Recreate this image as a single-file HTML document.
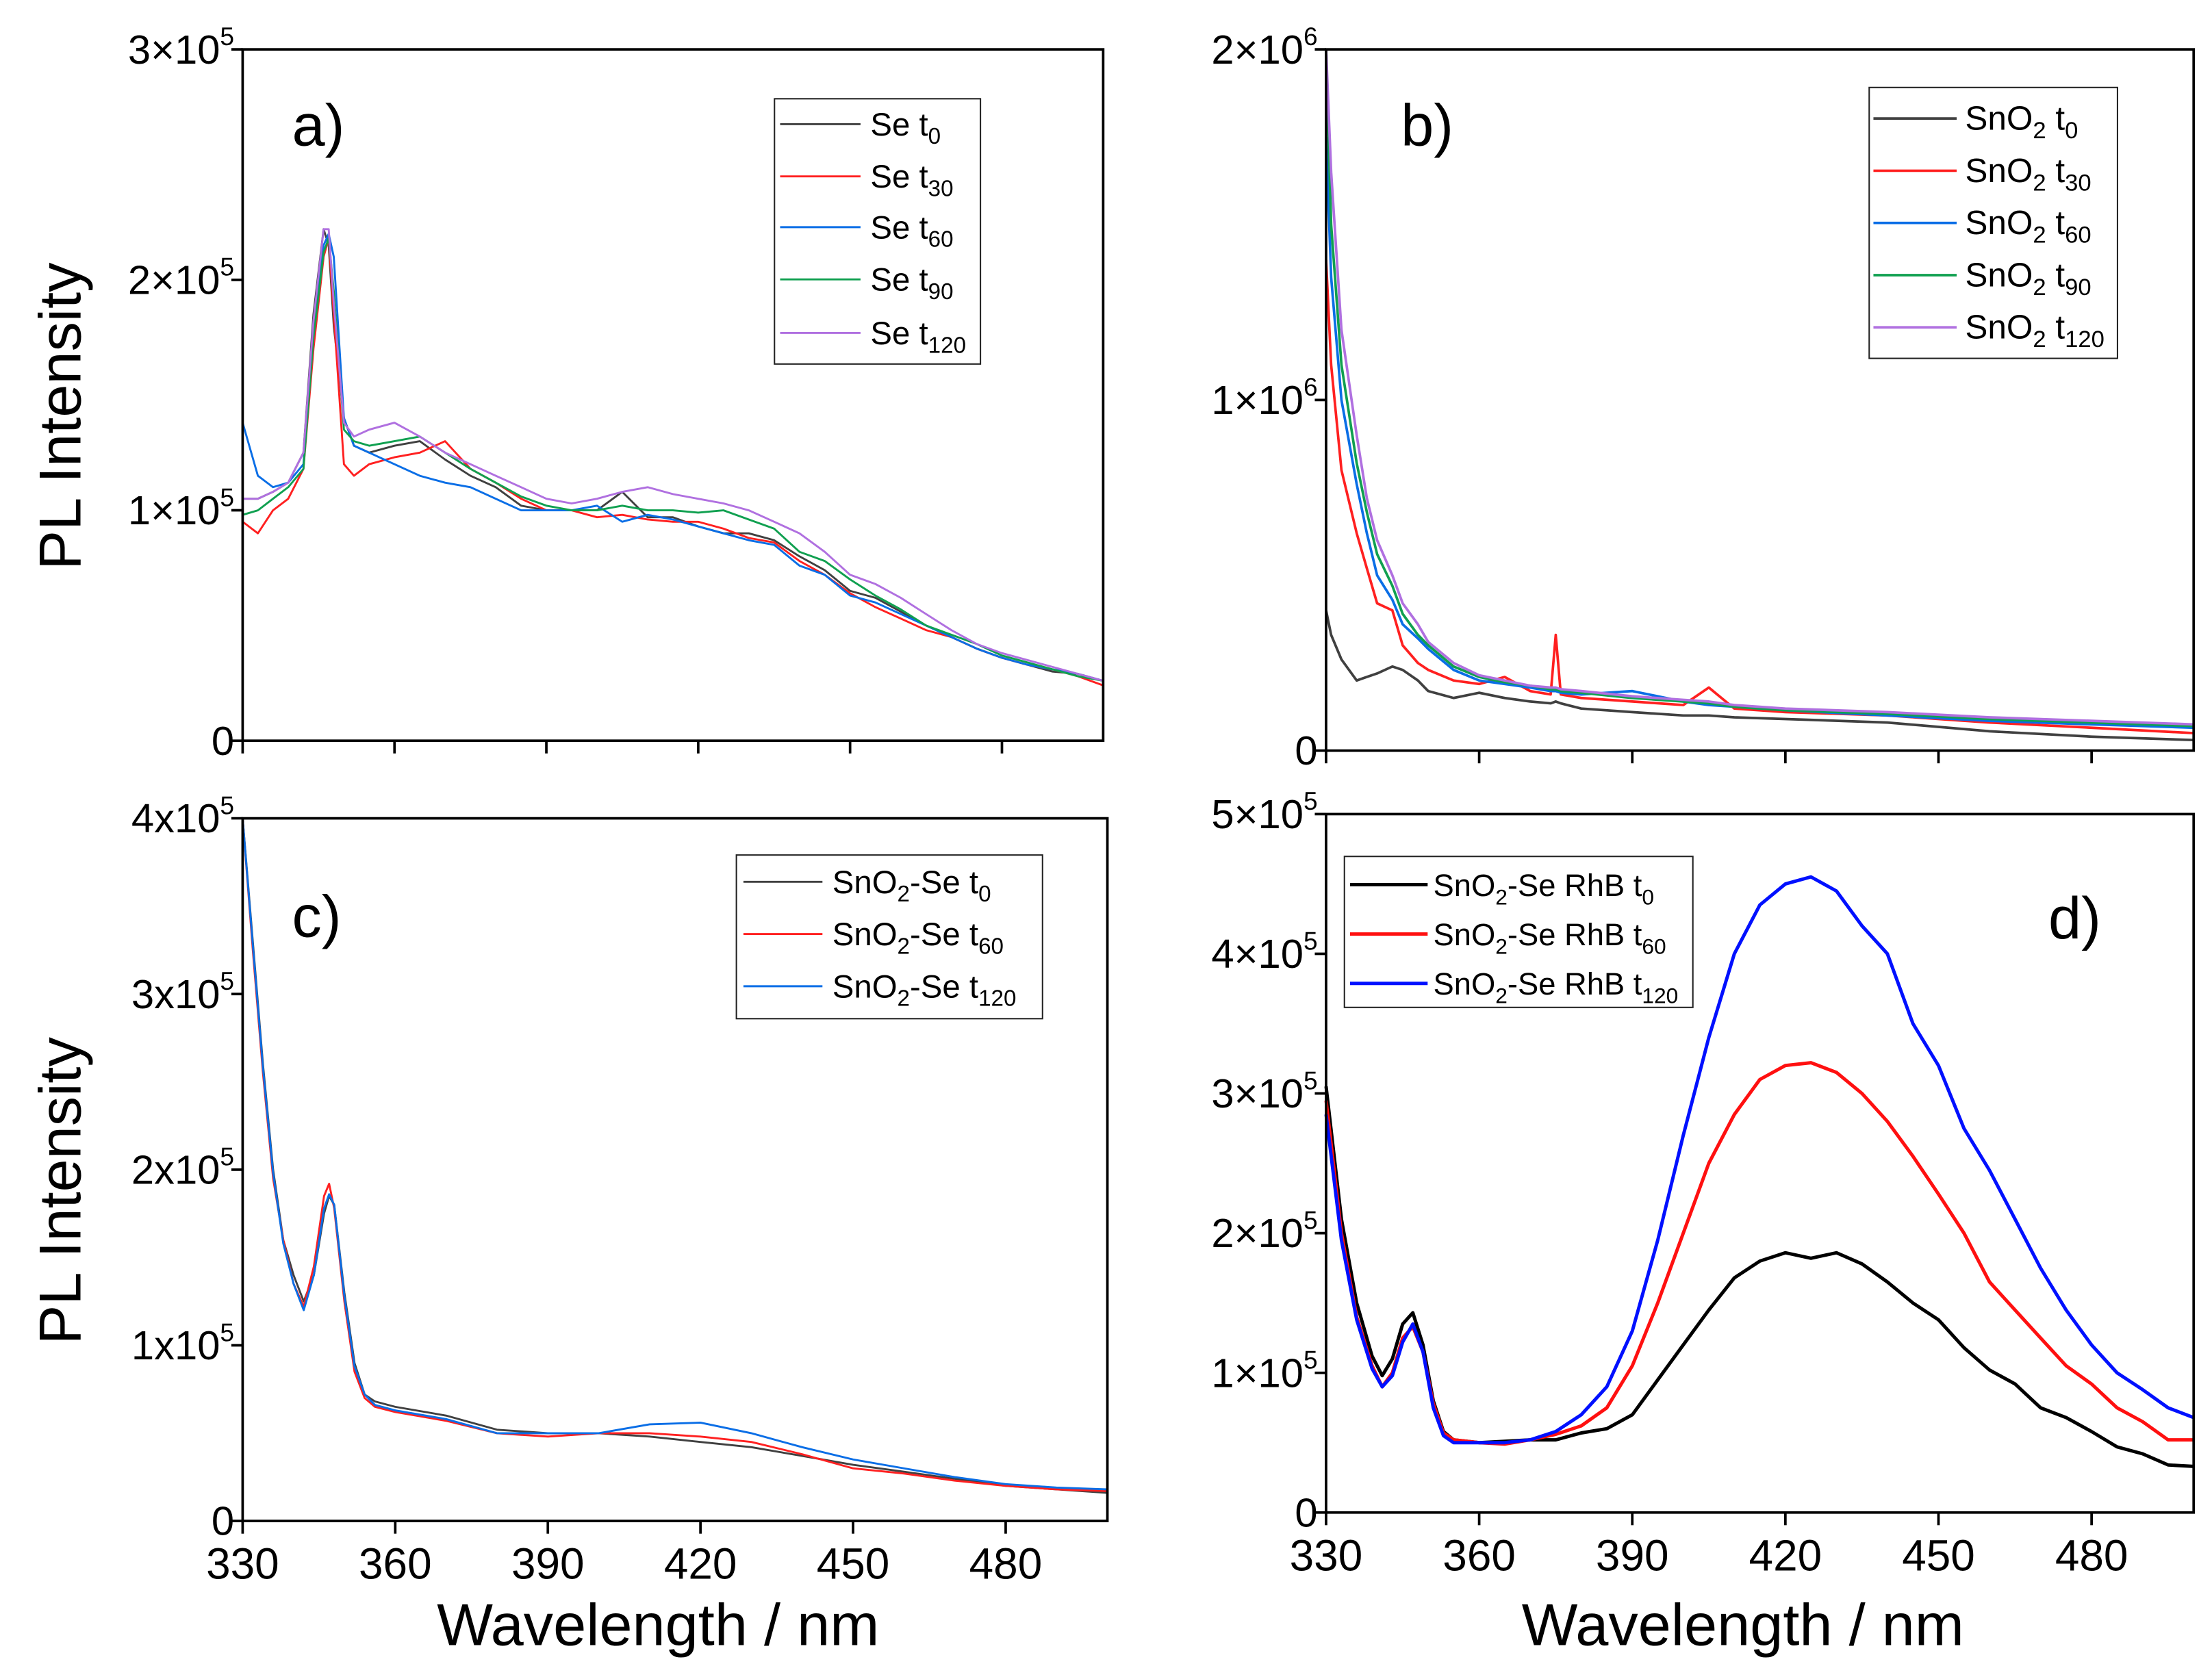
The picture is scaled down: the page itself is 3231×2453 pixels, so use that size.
<!DOCTYPE html>
<html><head><meta charset="utf-8"><style>
html,body{margin:0;padding:0;background:#fff;}
svg{display:block;font-family:"Liberation Sans",Arial,sans-serif;}
</style></head><body>
<svg id="fig" width="3231" height="2453" viewBox="0 0 1568 1190" preserveAspectRatio="none" xmlns="http://www.w3.org/2000/svg"></svg>
<script>
// ---- data (intensity in units of 1e3) ----
const xA = [330,333,336,339,342,344,346,347,348,350,352,355,360,365,370,375,380,385,390,395,400,405,410,415,420,425,430,435,440,445,450,455,460,465,470,475,480,485,490,495,500];
const aT0 = [105,105,108,112,125,185,222,215,180,140,128,125,128,130,122,115,110,102,100,100,100,108,97,97,93,90,90,87,80,74,65,62,56,50,45,40,36,33,30,29,26];
const aT30 = [95,90,100,105,118,170,210,218,185,120,115,120,123,125,130,118,112,105,100,100,97,98,96,95,95,92,88,86,78,72,64,58,53,48,45,40,36,33,31,28,24];
const aT60 = [138,115,110,112,120,180,215,220,210,140,128,125,120,115,112,110,105,100,100,100,102,95,98,96,93,90,87,85,76,72,63,60,55,50,45,40,36,33,31,29,26];
const aT90 = [98,100,105,110,118,175,212,218,195,135,130,128,130,132,125,118,112,106,102,100,100,102,100,100,99,100,96,92,82,78,70,63,57,50,46,42,37,34,31,28,26];
const aT120 = [105,105,108,112,125,182,222,222,190,138,132,135,138,132,125,120,115,110,105,103,105,108,110,107,105,103,100,95,90,82,72,68,62,55,48,42,38,35,32,29,26];

const xB = [330,331,333,336,338,340,343,345,348,350,355,360,365,370,374,375,376,380,390,400,405,410,420,440,460,480,500];
const bT0 = [400,330,260,200,210,220,240,230,200,170,150,165,150,140,135,140,135,120,110,100,100,95,90,80,55,40,30];
const bT30 = [1400,1100,800,620,520,420,400,300,250,230,200,190,210,170,160,330,160,150,140,130,180,120,110,100,80,65,50];
const bT60 = [1750,1350,1000,760,620,500,430,360,320,290,230,200,190,180,170,170,165,160,170,140,130,125,115,100,85,75,65];
const bT90 = [2000,1500,1100,820,680,560,470,390,330,300,240,210,195,185,175,175,170,165,150,140,135,125,115,105,90,80,70];
const bT120 = [2050,1650,1200,900,720,600,500,420,360,310,250,215,200,185,180,180,175,170,155,145,140,130,120,110,95,85,75];

const xC = [330,332,334,336,338,340,342,344,346,347,348,350,352,354,356,360,370,380,390,400,410,420,430,440,450,460,470,480,490,500];
const cT0 = [400,330,260,200,160,140,125,140,175,185,180,130,90,72,68,65,60,52,50,50,48,45,42,37,32,28,24,20,18,16];
const cT60 = [400,325,255,195,160,135,122,145,185,192,178,125,85,70,65,62,57,50,48,50,50,48,45,38,30,27,23,20,18,17];
const cT120 = [400,328,258,198,158,135,120,140,178,186,180,128,88,72,66,63,58,50,50,50,55,56,50,42,35,30,25,21,19,18];

const xD = [330,333,336,339,341,343,345,347,349,351,353,355,360,365,370,375,380,385,390,395,400,405,410,415,420,425,430,435,440,445,450,455,460,465,470,475,480,485,490,495,500];
const dT0 = [305,210,150,112,98,110,135,143,120,80,58,52,50,51,52,52,57,60,70,95,120,145,168,180,186,182,186,178,165,150,138,118,102,92,75,68,58,47,42,34,33];
const dT60 = [295,200,140,105,90,100,125,133,115,78,57,52,50,49,52,56,62,75,105,150,200,250,285,310,320,322,315,300,280,255,228,200,165,145,125,105,92,75,65,52,52];
const dT120 = [285,195,138,103,90,98,122,135,115,75,55,50,50,50,52,58,70,90,130,195,270,340,400,435,450,455,445,420,400,350,320,275,245,210,175,145,120,100,88,75,68];

const xTicks = [330,360,390,420,450,480];
const xTickLabels = ["330","360","390","420","450","480"];

const NS = "http://www.w3.org/2000/svg";
const svg = document.getElementById('fig');
function el(tag, attrs, parent){const e=document.createElementNS(NS,tag);for(const k in attrs)e.setAttribute(k,attrs[k]);(parent||svg).appendChild(e);return e;}

const panels = [
 {id:'a',x0:172,x1:782,y0:35,y1:525,ymax:300,yt:[[0,"0",""],[100,"1×10","5"],[200,"2×10","5"],[300,"3×10","5"]],xlab:false,
  series:[[xA,aT0,'#404040','t','0'],[xA,aT30,'#ff2020','t','30'],[xA,aT60,'#0a6ee6','t','60'],[xA,aT90,'#10a050','t','90'],[xA,aT120,'#b070e0','t','120']],
  pre:'Se ',leg:{x:549,y:70,w:146,h:188,rows:[88,125,161,198,236],l0:553,l1:610,tx:617,fs:23},lab:{t:'a)',x:207,y:103},sw:1.4},
 {id:'b',x0:940,x1:1555,y0:35,y1:532,ymax:2000,yt:[[0,"0",""],[1000,"1×10","6"],[2000,"2×10","6"]],xlab:false,
  series:[[xB,bT0,'#404040','t','0'],[xB,bT30,'#ff2020','t','30'],[xB,bT60,'#0a6ee6','t','60'],[xB,bT90,'#10a050','t','90'],[xB,bT120,'#b070e0','t','120']],
  pre:'SnO2 ',leg:{x:1325,y:62,w:176,h:192,rows:[84,121,158,195,232],l0:1328,l1:1387,tx:1393,fs:24},lab:{t:'b)',x:993,y:103},sw:1.8},
 {id:'c',x0:172,x1:785,y0:580,y1:1078,ymax:400,yt:[[0,"0",""],[100,"1x10","5"],[200,"2x10","5"],[300,"3x10","5"],[400,"4x10","5"]],xlab:true,
  series:[[xC,cT0,'#404040','t','0'],[xC,cT60,'#ff2020','t','60'],[xC,cT120,'#0a6ee6','t','120']],
  pre:'SnO2-Se ',leg:{x:522,y:606,w:217,h:116,rows:[625,662,699],l0:527,l1:583,tx:590,fs:23},lab:{t:'c)',x:207,y:664},sw:1.4},
 {id:'d',x0:940,x1:1555,y0:577,y1:1072,ymax:500,yt:[[0,"0",""],[100,"1×10","5"],[200,"2×10","5"],[300,"3×10","5"],[400,"4×10","5"],[500,"5×10","5"]],xlab:true,
  series:[[xD,dT0,'#000000','t','0'],[xD,dT60,'#ff1010','t','60'],[xD,dT120,'#0010ff','t','120']],
  pre:'SnO2-Se RhB ',leg:{x:953,y:607,w:247,h:107,rows:[627,662,697],l0:957,l1:1012,tx:1016,fs:22},lab:{t:'d)',x:1452,y:665},sw:2.4}
];

panels.forEach(p=>{
  const g = el('g',{});
  
  
  const sx = v => p.x0 + (v-330)/(500-330)*(p.x1-p.x0);
  const sy = v => p.y1 - v/p.ymax*(p.y1-p.y0);
  p.series.forEach(s=>{
    const d = s[0].map((x,i)=>(i?'L':'M')+sx(x).toFixed(1)+','+Math.max(p.y0,sy(s[1][i])).toFixed(1)).join(' ');
    const path = el('path',{d:d,fill:'none',stroke:s[2],'stroke-width':p.sw,'stroke-linejoin':'round'},g);
    
    
  });
  const fr = el('rect',{x:p.x0,y:p.y0,width:p.x1-p.x0,height:p.y1-p.y0,fill:'none',stroke:'#000','stroke-width':1.8},g);
  
  
  xTicks.forEach((t,i)=>{
    el('line',{x1:sx(t),x2:sx(t),y1:p.y1,y2:p.y1+9,stroke:'#000','stroke-width':1.8},g);
    if(p.xlab){
      const tx = el('text',{x:sx(t),y:p.y1+41,'font-size':31,'text-anchor':'middle',fill:'#000'},g);
      tx.textContent = xTickLabels[i];
      
      
    }
  });
  p.yt.forEach(t=>{
    const y = sy(t[0]);
    el('line',{x1:p.x0-8,x2:p.x0,y1:y,y2:y,stroke:'#000','stroke-width':1.8},g);
    const tx = el('text',{x:p.x0-6,y:y+10,'font-size':29,'text-anchor':'end',fill:'#000'},g);
    
    
    if(t[2]){ tx.innerHTML = t[1]+'<tspan dy="-13" font-size="18">'+t[2]+'</tspan>'; }
    else tx.textContent = t[1];
  });
  if(p.xlab){
    const xt = el('text',{x:(p.x0+p.x1)/2-12,y:1166,'font-size':42,'text-anchor':'middle',fill:'#000'},g);
    xt.textContent='Wavelength / nm';
    
    
  }
  if(p.id==='a'||p.id==='c'){
    const cy=(p.y0+p.y1)/2+15;
    const yt = el('text',{x:57,y:cy,'font-size':42,'text-anchor':'middle',fill:'#000',transform:'rotate(-90 57 '+cy+')'},g);
    yt.textContent='PL Intensity';
    
    
  }
  const pl = el('text',{x:p.lab.x,y:p.lab.y,'font-size':42,fill:'#000'},g);
  pl.textContent=p.lab.t;
  
  
  const L = p.leg;
  const lg = el('g',{},g);
  
  
  el('rect',{x:L.x,y:L.y,width:L.w,height:L.h,fill:'#fff',stroke:'#222','stroke-width':1},lg);
  p.series.forEach((s,i)=>{
    const y=L.rows[i];
    const ent = el('g',{},lg);
    
    
    el('line',{x1:L.l0,x2:L.l1,y1:y,y2:y,stroke:s[2],'stroke-width':p.sw},ent);
    const t = el('text',{x:L.tx,y:y+8,'font-size':L.fs,fill:'#000'},ent);
    let pre = p.pre;
    let html = pre.indexOf('SnO2')===0 ? 'SnO<tspan dy="6" font-size="'+(L.fs*0.7)+'">2</tspan><tspan dy="-6">'+pre.slice(4)+'</tspan>' : pre;
    html += 't<tspan dy="6" font-size="'+(L.fs*0.7)+'">'+s[4]+'</tspan>';
    t.innerHTML = html;
  });
});
</script>
</body></html>
